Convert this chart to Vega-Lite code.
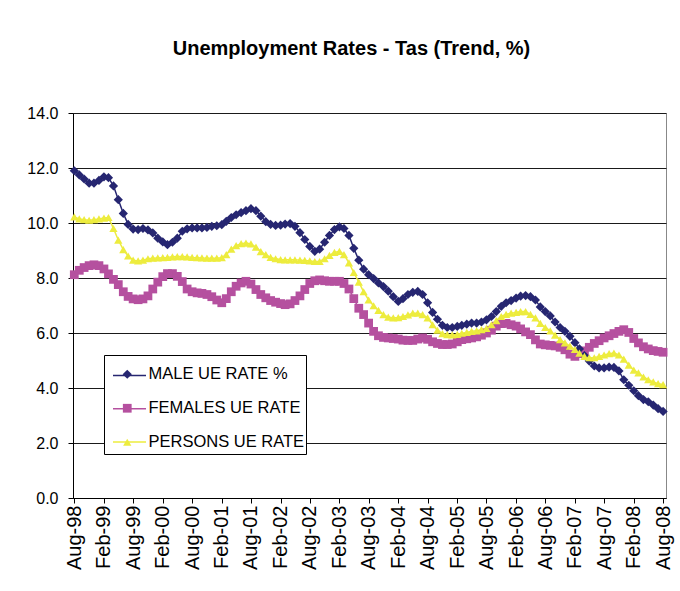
{
  "$schema": "https://vega.github.io/schema/vega-lite/v6.json",
  "autosize": {"type": "none"},
  "width": 593,
  "height": 385,
  "padding": {"left": 73, "top": 113, "right": 14, "bottom": 93},
  "background": "white",
  "title": {
    "text": "Unemployment Rates - Tas (Trend, %)",
    "font": "Liberation Sans",
    "fontSize": 20,
    "fontWeight": "bold",
    "color": "black",
    "anchor": "middle",
    "dx": -18,
    "offset": 46
  },
  "config": {
    "view": {"stroke": "#888888", "strokeWidth": 1},
    "axis": {"labelFont": "Liberation Sans", "labelColor": "black", "domainColor": "black", "tickColor": "black", "title": null}
  },
  "data": {
    "values": [
      {"d":"1998/08/01","M":11.9,"F":8.12,"P":10.22},
      {"d":"1998/09/01","M":11.75,"F":8.28,"P":10.15},
      {"d":"1998/10/01","M":11.6,"F":8.38,"P":10.12},
      {"d":"1998/11/01","M":11.45,"F":8.45,"P":10.1},
      {"d":"1998/12/01","M":11.45,"F":8.48,"P":10.12},
      {"d":"1999/01/01","M":11.55,"F":8.45,"P":10.15},
      {"d":"1999/02/01","M":11.68,"F":8.33,"P":10.18},
      {"d":"1999/03/01","M":11.65,"F":8.15,"P":10.2},
      {"d":"1999/04/01","M":11.35,"F":7.95,"P":9.8},
      {"d":"1999/05/01","M":10.85,"F":7.76,"P":9.38},
      {"d":"1999/06/01","M":10.35,"F":7.5,"P":9.03},
      {"d":"1999/07/01","M":9.95,"F":7.33,"P":8.8},
      {"d":"1999/08/01","M":9.78,"F":7.24,"P":8.65},
      {"d":"1999/09/01","M":9.76,"F":7.21,"P":8.62},
      {"d":"1999/10/01","M":9.8,"F":7.24,"P":8.65},
      {"d":"1999/11/01","M":9.75,"F":7.35,"P":8.7},
      {"d":"1999/12/01","M":9.64,"F":7.6,"P":8.72},
      {"d":"2000/01/01","M":9.45,"F":7.85,"P":8.73},
      {"d":"2000/02/01","M":9.31,"F":8.05,"P":8.74},
      {"d":"2000/03/01","M":9.21,"F":8.16,"P":8.75},
      {"d":"2000/04/01","M":9.3,"F":8.16,"P":8.77},
      {"d":"2000/05/01","M":9.45,"F":8.06,"P":8.78},
      {"d":"2000/06/01","M":9.7,"F":7.87,"P":8.78},
      {"d":"2000/07/01","M":9.79,"F":7.6,"P":8.77},
      {"d":"2000/08/01","M":9.82,"F":7.5,"P":8.75},
      {"d":"2000/09/01","M":9.82,"F":7.46,"P":8.74},
      {"d":"2000/10/01","M":9.82,"F":7.44,"P":8.73},
      {"d":"2000/11/01","M":9.84,"F":7.4,"P":8.72},
      {"d":"2000/12/01","M":9.88,"F":7.32,"P":8.72},
      {"d":"2001/01/01","M":9.9,"F":7.2,"P":8.72},
      {"d":"2001/02/01","M":9.94,"F":7.1,"P":8.74},
      {"d":"2001/03/01","M":10.06,"F":7.25,"P":8.85},
      {"d":"2001/04/01","M":10.2,"F":7.5,"P":9.05},
      {"d":"2001/05/01","M":10.3,"F":7.7,"P":9.18},
      {"d":"2001/06/01","M":10.38,"F":7.82,"P":9.25},
      {"d":"2001/07/01","M":10.45,"F":7.88,"P":9.27},
      {"d":"2001/08/01","M":10.52,"F":7.78,"P":9.24},
      {"d":"2001/09/01","M":10.45,"F":7.58,"P":9.12},
      {"d":"2001/10/01","M":10.25,"F":7.4,"P":8.96},
      {"d":"2001/11/01","M":10.05,"F":7.28,"P":8.85},
      {"d":"2001/12/01","M":9.95,"F":7.18,"P":8.75},
      {"d":"2002/01/01","M":9.91,"F":7.12,"P":8.7},
      {"d":"2002/02/01","M":9.92,"F":7.07,"P":8.67},
      {"d":"2002/03/01","M":9.96,"F":7.03,"P":8.66},
      {"d":"2002/04/01","M":9.98,"F":7.06,"P":8.66},
      {"d":"2002/05/01","M":9.88,"F":7.18,"P":8.66},
      {"d":"2002/06/01","M":9.65,"F":7.35,"P":8.65},
      {"d":"2002/07/01","M":9.4,"F":7.58,"P":8.64},
      {"d":"2002/08/01","M":9.15,"F":7.8,"P":8.62},
      {"d":"2002/09/01","M":8.97,"F":7.9,"P":8.6},
      {"d":"2002/10/01","M":9.05,"F":7.93,"P":8.6},
      {"d":"2002/11/01","M":9.3,"F":7.9,"P":8.7},
      {"d":"2002/12/01","M":9.55,"F":7.88,"P":8.82},
      {"d":"2003/01/01","M":9.76,"F":7.88,"P":8.93},
      {"d":"2003/02/01","M":9.86,"F":7.88,"P":8.97},
      {"d":"2003/03/01","M":9.8,"F":7.8,"P":8.85},
      {"d":"2003/04/01","M":9.55,"F":7.6,"P":8.55},
      {"d":"2003/05/01","M":9.08,"F":7.25,"P":8.2},
      {"d":"2003/06/01","M":8.65,"F":6.9,"P":7.85},
      {"d":"2003/07/01","M":8.32,"F":6.67,"P":7.5},
      {"d":"2003/08/01","M":8.12,"F":6.36,"P":7.2},
      {"d":"2003/09/01","M":7.98,"F":6.06,"P":6.99},
      {"d":"2003/10/01","M":7.82,"F":5.9,"P":6.82},
      {"d":"2003/11/01","M":7.69,"F":5.84,"P":6.67},
      {"d":"2003/12/01","M":7.52,"F":5.82,"P":6.58},
      {"d":"2004/01/01","M":7.32,"F":5.8,"P":6.55},
      {"d":"2004/02/01","M":7.15,"F":5.78,"P":6.56},
      {"d":"2004/03/01","M":7.25,"F":5.74,"P":6.6},
      {"d":"2004/04/01","M":7.4,"F":5.73,"P":6.66},
      {"d":"2004/05/01","M":7.48,"F":5.73,"P":6.72},
      {"d":"2004/06/01","M":7.51,"F":5.78,"P":6.72},
      {"d":"2004/07/01","M":7.4,"F":5.82,"P":6.67},
      {"d":"2004/08/01","M":7.1,"F":5.77,"P":6.55},
      {"d":"2004/09/01","M":6.75,"F":5.68,"P":6.3},
      {"d":"2004/10/01","M":6.5,"F":5.62,"P":6.1},
      {"d":"2004/11/01","M":6.28,"F":5.58,"P":5.98},
      {"d":"2004/12/01","M":6.2,"F":5.58,"P":5.94},
      {"d":"2005/01/01","M":6.2,"F":5.6,"P":5.93},
      {"d":"2005/02/01","M":6.24,"F":5.68,"P":5.95},
      {"d":"2005/03/01","M":6.28,"F":5.76,"P":5.99},
      {"d":"2005/04/01","M":6.32,"F":5.79,"P":6.02},
      {"d":"2005/05/01","M":6.36,"F":5.82,"P":6.06},
      {"d":"2005/06/01","M":6.36,"F":5.86,"P":6.08},
      {"d":"2005/07/01","M":6.4,"F":5.92,"P":6.12},
      {"d":"2005/08/01","M":6.48,"F":6.0,"P":6.17},
      {"d":"2005/09/01","M":6.6,"F":6.1,"P":6.3},
      {"d":"2005/10/01","M":6.78,"F":6.25,"P":6.45},
      {"d":"2005/11/01","M":6.97,"F":6.34,"P":6.6},
      {"d":"2005/12/01","M":7.1,"F":6.35,"P":6.68},
      {"d":"2006/01/01","M":7.18,"F":6.3,"P":6.72},
      {"d":"2006/02/01","M":7.27,"F":6.25,"P":6.75},
      {"d":"2006/03/01","M":7.34,"F":6.15,"P":6.78},
      {"d":"2006/04/01","M":7.36,"F":6.04,"P":6.78},
      {"d":"2006/05/01","M":7.32,"F":5.94,"P":6.68},
      {"d":"2006/06/01","M":7.2,"F":5.75,"P":6.55},
      {"d":"2006/07/01","M":6.95,"F":5.6,"P":6.35},
      {"d":"2006/08/01","M":6.78,"F":5.57,"P":6.2},
      {"d":"2006/09/01","M":6.62,"F":5.55,"P":6.08},
      {"d":"2006/10/01","M":6.4,"F":5.53,"P":5.92},
      {"d":"2006/11/01","M":6.2,"F":5.48,"P":5.76},
      {"d":"2006/12/01","M":6.06,"F":5.39,"P":5.64},
      {"d":"2007/01/01","M":5.88,"F":5.23,"P":5.52},
      {"d":"2007/02/01","M":5.65,"F":5.15,"P":5.4},
      {"d":"2007/03/01","M":5.42,"F":5.25,"P":5.27},
      {"d":"2007/04/01","M":5.18,"F":5.35,"P":5.15},
      {"d":"2007/05/01","M":4.98,"F":5.48,"P":5.1},
      {"d":"2007/06/01","M":4.8,"F":5.62,"P":5.1},
      {"d":"2007/07/01","M":4.73,"F":5.72,"P":5.15},
      {"d":"2007/08/01","M":4.73,"F":5.82,"P":5.2},
      {"d":"2007/09/01","M":4.76,"F":5.9,"P":5.25},
      {"d":"2007/10/01","M":4.75,"F":5.98,"P":5.27},
      {"d":"2007/11/01","M":4.62,"F":6.06,"P":5.2},
      {"d":"2007/12/01","M":4.3,"F":6.12,"P":5.05},
      {"d":"2008/01/01","M":4.1,"F":6.02,"P":4.83},
      {"d":"2008/02/01","M":3.9,"F":5.8,"P":4.65},
      {"d":"2008/03/01","M":3.72,"F":5.64,"P":4.55},
      {"d":"2008/04/01","M":3.58,"F":5.5,"P":4.4},
      {"d":"2008/05/01","M":3.5,"F":5.42,"P":4.3},
      {"d":"2008/06/01","M":3.38,"F":5.36,"P":4.22},
      {"d":"2008/07/01","M":3.25,"F":5.33,"P":4.16},
      {"d":"2008/08/01","M":3.15,"F":5.3,"P":4.12}
    ]
  },
  "transform": [{"fold": ["M", "F", "P"], "as": ["s", "v"]}],
  "encoding": {
    "x": {
      "field": "d",
      "type": "temporal",
      "scale": {"domain": [{"year": 1998, "month": 7, "date": 24}, {"year": 2008, "month": 8, "date": 19}]},
      "axis": {
        "values": [
          {"year":1998,"month":8,"date":1},{"year":1999,"month":2,"date":1},{"year":1999,"month":8,"date":1},
          {"year":2000,"month":2,"date":1},{"year":2000,"month":8,"date":1},{"year":2001,"month":2,"date":1},
          {"year":2001,"month":8,"date":1},{"year":2002,"month":2,"date":1},{"year":2002,"month":8,"date":1},
          {"year":2003,"month":2,"date":1},{"year":2003,"month":8,"date":1},{"year":2004,"month":2,"date":1},
          {"year":2004,"month":8,"date":1},{"year":2005,"month":2,"date":1},{"year":2005,"month":8,"date":1},
          {"year":2006,"month":2,"date":1},{"year":2006,"month":8,"date":1},{"year":2007,"month":2,"date":1},
          {"year":2007,"month":8,"date":1},{"year":2008,"month":2,"date":1},{"year":2008,"month":8,"date":1}
        ],
        "format": "%b-%y",
        "labelAngle": -90,
        "labelFontSize": 20,
        "labelPadding": 2,
        "tickSize": 5,
        "grid": false,
        "labelOverlap": false,
        "labelFlush": false
      }
    },
    "y": {
      "field": "v",
      "type": "quantitative",
      "scale": {"domain": [0, 14], "nice": false, "zero": true},
      "axis": {
        "values": [0, 2, 4, 6, 8, 10, 12, 14],
        "format": ".1f",
        "labelFontSize": 16,
        "labelPadding": 10,
        "tickSize": 5,
        "grid": true,
        "gridColor": "#1a1a1a",
        "gridWidth": 1,
        "gridOpacity": 1
      }
    }
  },
  "layer": [
    {
      "mark": {"type": "line", "strokeWidth": 1.5},
      "encoding": {
        "stroke": {
          "field": "s",
          "type": "nominal",
          "scale": {"domain": ["M", "F", "P"], "range": ["#262671", "#B5509F", "#EDEC3E"]},
          "legend": {
            "orient": "none",
            "legendX": 31,
            "legendY": 242,
            "title": null,
            "fillColor": "white",
            "strokeColor": "black",
            "padding": 3,
            "rowPadding": 7.3,
            "symbolType": "stroke",
            "symbolSize": 1089,
            "symbolStrokeWidth": 1.5,
            "symbolOffset": 5,
            "labelOffset": 0,
            "labelOpacity": 0,
            "labelFont": "Liberation Sans",
            "labelFontSize": 16.5,
            "labelLimit": 300,
            "labelExpr": "datum.value == 'M' ? 'MALE UE RATE %' : datum.value == 'F' ? 'FEMALES UE RATE' : 'PERSONS UE RATE'"
          }
        }
      }
    },
    {
      "mark": {"type": "point", "filled": true, "opacity": 1},
      "encoding": {
        "color": {
          "field": "s",
          "type": "nominal",
          "scale": {"domain": ["M", "F", "P", "Z"], "range": ["#262671", "#B5509F", "#EDEC3E", "#000000"]},
          "legend": {
            "orient": "none",
            "legendX": 33,
            "legendY": 244,
            "title": null,
            "values": ["M", "F", "P"],
            "fillColor": "transparent",
            "strokeColor": "transparent",
            "padding": 9,
            "rowPadding": 17,
            "symbolSize": 64,
            "symbolOffset": 4,
            "labelOffset": 13,
            "labelFont": "Liberation Sans",
            "labelFontSize": 16.5,
            "labelColor": "black",
            "labelLimit": 300,
            "labelExpr": "datum.value == 'M' ? 'MALE UE RATE %' : datum.value == 'F' ? 'FEMALES UE RATE' : 'PERSONS UE RATE'"
          }
        },
        "shape": {
          "field": "s",
          "type": "nominal",
          "scale": {"domain": ["M", "F", "P", "Z"], "range": ["diamond", "square", "triangle-up", "circle"]},
          "legend": null
        },
        "size": {
          "field": "s",
          "type": "nominal",
          "scale": {"domain": ["M", "F", "P", "Z"], "range": [85, 60, 72, 60]},
          "legend": null
        },
        "order": {"field": "s", "type": "nominal"}
      }
    }
  ]
}
